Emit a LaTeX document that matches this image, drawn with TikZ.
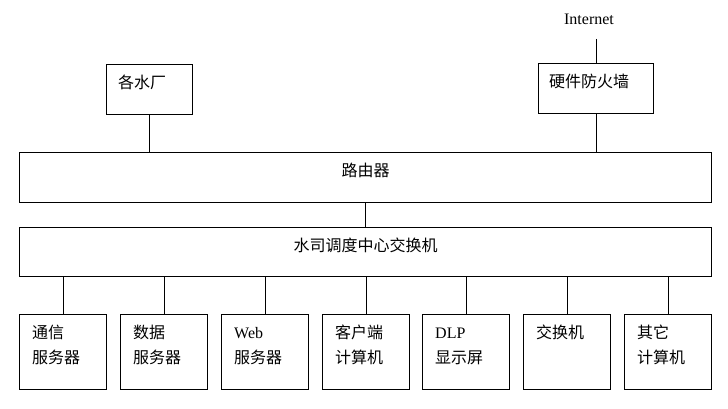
\documentclass[tikz,border=0pt]{standalone}
\usepackage{fontspec}
\setmainfont{Liberation Serif}
\newfontfamily\cjk{Noto Sans CJK SC}
\usepackage{tikz}
\usetikzlibrary{positioning, calc}
\definecolor{boxline}{HTML}{000000}
\tikzset{
  netbox/.style={draw=boxline, line width=1pt, inner sep=0pt, anchor=north west},
  boxtext/.style={font=\fontsize{16}{25}\selectfont\cjk, inner sep=0pt, align=left},
  hosttext/.style={boxtext, anchor=north west},
  link/.style={draw=boxline, line width=1pt},
}
\newcommand{\hostbox}[3]{%
  \node[netbox, minimum width=87, minimum height=75] (#1) at (#2,-314) {};
  \node[hosttext] (#1-txt) at ($(#1.north west)+(13,-6.5)$) {\strut#3};
  \draw[link] (#1.north) -- (#1.north |- sw.south);
}

\begin{document}
\begin{tikzpicture}[x=1pt, y=1pt]
    \useasboundingbox (0,0) rectangle (728,-409);

    % outside links
    \node[font=\fontsize{16}{20}\selectfont, inner sep=0pt, anchor=base] (inet) at (589,-25) {Internet};
    \node[netbox, minimum width=115, minimum height=50] (fw) at (538,-63) {};
    \node[boxtext, anchor=base west] (fw-txt) at ($(fw.north west)+(11,-25)$) {硬件防火墙};
    \coordinate (inettail) at ($(fw.north)+(0,24)$);
    \draw[link] (inettail) -- (fw.north);

    \node[netbox, minimum width=86, minimum height=50] (plant) at (106,-64) {};
    \node[boxtext, anchor=base west] (plant-txt) at ($(plant.north west)+(12,-25)$) {各水厂};

    % router and core switch
    \node[netbox, minimum width=692, minimum height=50] (router) at (19,-152) {};
    \node[boxtext, anchor=base] (router-txt) at ($(router.north)+(0,-24)$) {路由器};
    \draw[link] (plant.south) -- (plant.south |- router.north);
    \draw[link] (fw.south) -- (fw.south |- router.north);

    \node[netbox, minimum width=692, minimum height=49] (sw) at (19,-227) {};
    \node[boxtext, anchor=base] (sw-txt) at ($(sw.north)+(0,-24)$) {水司调度中心交换机};
    \draw[link] (router.south) -- (sw.north);

    % hosts on the switch
    \hostbox{comm}{19}{通信\\服务器}
    \hostbox{data}{120}{数据\\服务器}
    \hostbox{web}{221}{{\rmfamily Web}\\服务器}
    \hostbox{client}{322}{客户端\\计算机}
    \hostbox{dlp}{422}{{\rmfamily DLP}\\显示屏}
    \hostbox{subsw}{523}{交换机}
    \hostbox{other}{624}{其它\\计算机}
\end{tikzpicture}
\end{document}
